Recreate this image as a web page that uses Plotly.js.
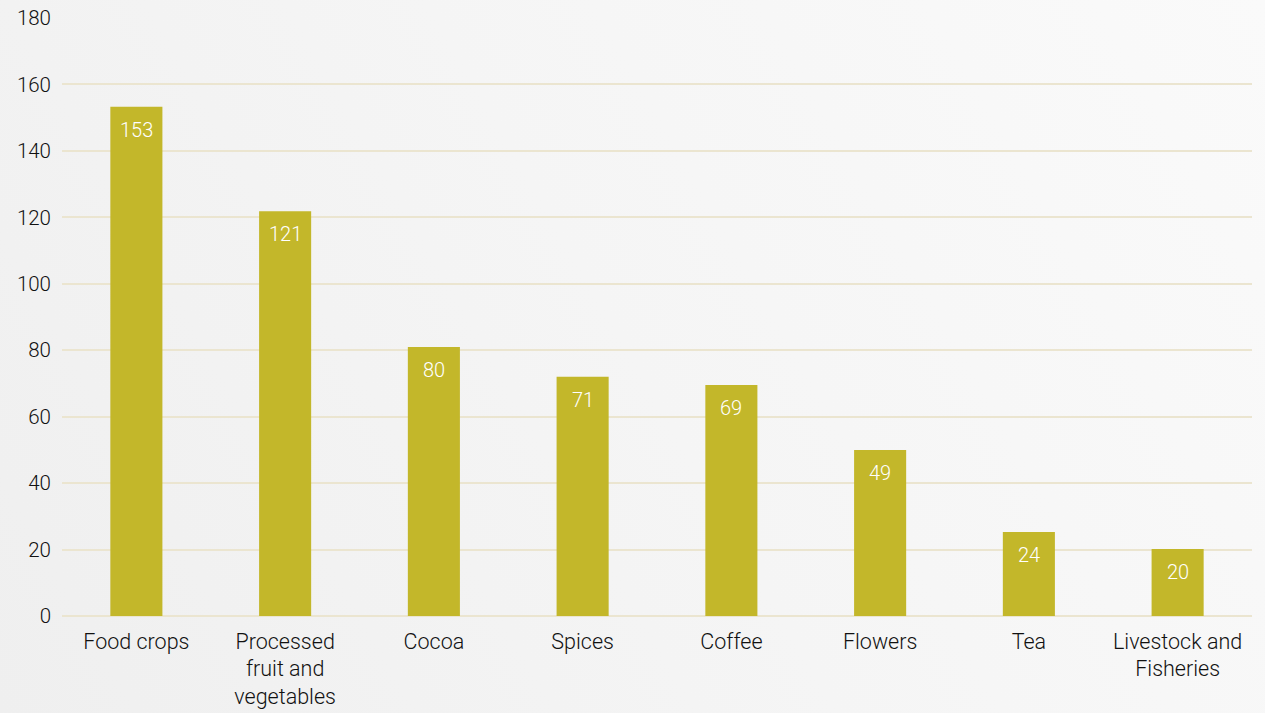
<!DOCTYPE html>
<html>
<head>
<meta charset="utf-8">
<script src="https://cdn.plot.ly/plotly-3.0.1.min.js"></script>
<style>
html,body{margin:0;padding:0;width:1265px;height:713px;overflow:hidden;
background:linear-gradient(60deg,#efefef 0%,#f5f5f5 50%,#fafafa 100%);}
#chart{width:1265px;height:713px;}
</style>
</head>
<body>
<div id="chart"></div>
<script>
const categories = ["Food crops","Processed<br>fruit and<br>vegetables","Cocoa","Spices","Coffee","Flowers","Tea","Livestock and<br>Fisheries"];
const barHeights = [153.3, 121.8, 81, 72, 69.5, 50, 25.3, 20.2];
const barLabels = ["153","121","80","71","69","49","24","20"];
const yTicks = [0,20,40,60,80,100,120,140,160,180];

const fontFam = "Roboto, 'Noto Sans', sans-serif";

const trace = {
  type: "bar",
  x: categories,
  y: barHeights,
  marker: {color: "#c3b72a"},
  hoverinfo: "none"
};

const annotations = categories.map((c,i)=>({
  x: c, y: barHeights[i], xref:"x", yref:"y",
  text: barLabels[i], showarrow:false, yshift:-23,
  font:{family:fontFam, size:20, color:"#ffffff", weight:300}
}));

const layout = {
  width:1265, height:713,
  margin:{l:62, r:13, t:18, b:97},
  paper_bgcolor:"rgba(0,0,0,0)",
  plot_bgcolor:"rgba(0,0,0,0)",
  bargap:0.65,
  showlegend:false,
  font:{family:fontFam, size:20, color:"#111111"},
  xaxis:{showgrid:false, zeroline:false, showline:false, ticks:"",
    ticklabelstandoff:10,
    tickfont:{family:fontFam, size:21.5, color:"#111111", weight:300}},
  yaxis:{range:[0,180], tickvals:yTicks, ticktext:yTicks.map(String),
    showgrid:true, gridcolor:"#ebe5d0", gridwidth:2,
    zeroline:true, zerolinecolor:"#ebe5d0", zerolinewidth:2,
    showline:false, ticks:"", ticklabelstandoff:10,
    tickfont:{family:fontFam, size:20.5, color:"#111111", weight:300}},
  annotations: annotations
};

Plotly.newPlot("chart",[trace],layout,{displayModeBar:false, staticPlot:true});
</script>
</body>
</html>
